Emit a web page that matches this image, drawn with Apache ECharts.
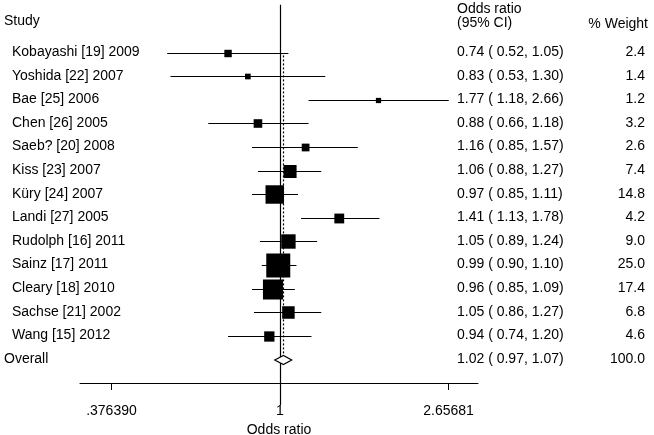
<!DOCTYPE html>
<html><head><meta charset="utf-8">
<script src="https://cdn.jsdelivr.net/npm/echarts@6/dist/echarts.min.js"></script>
<style>html,body{margin:0;padding:0;background:#fff}#c{width:654px;height:435px}</style>
</head><body><div id="c"></div>
<script>
const studies = ['Kobayashi [19] 2009','Yoshida [22] 2007','Bae [25] 2006','Chen [26] 2005','Saeb? [20] 2008','Kiss [23] 2007','Küry [24] 2007','Landi [27] 2005','Rudolph [16] 2011','Sainz [17] 2011','Cleary [18] 2010','Sachse [21] 2002','Wang [15] 2012'];
const oddsRatio = [0.74,0.83,1.77,0.88,1.16,1.06,0.97,1.41,1.05,0.99,0.96,1.05,0.94];
const lower = [0.52,0.53,1.18,0.66,0.85,0.88,0.85,1.13,0.89,0.90,0.85,0.86,0.74];
const upper = [1.05,1.30,2.66,1.18,1.57,1.27,1.11,1.78,1.24,1.10,1.09,1.27,1.20];
const weight = [2.4,1.4,1.2,3.2,2.6,7.4,14.8,4.2,9.0,25.0,17.4,6.8,4.6];
const overallLabel = 'Overall';
const overallOR = 1.02, overallLo = 0.97, overallHi = 1.07, overallW = 100.0;
const tickValues = [0.376390, 1, 2.65681];
const tickLabels = ['.376390', '1', '2.65681'];
const axisMinOR = 0.3137, axisMaxOR = 3.151;

const FONT = '14px "Liberation Sans", Arial, sans-serif';
const ln = Math.log;
const nRows = studies.length;
const overallRow = nRows + 1;
const yMin = -1.246, yMax = 14.975;
const f2 = v => v.toFixed(2);
const px = v => Math.round(v - 0.5) + 0.5;

const chart = echarts.init(document.getElementById('c'), null, {renderer: 'canvas'});

const studyData = studies.map((s, i) => [i + 1, ln(oddsRatio[i]), ln(lower[i]), ln(upper[i]), weight[i]]);
const textData = studies.map((s, i) => [i + 1, s, f2(oddsRatio[i]) + ' ( ' + f2(lower[i]) + ', ' + f2(upper[i]) + ')', weight[i].toFixed(1), 0]);
textData.push([overallRow, overallLabel, f2(overallOR) + ' ( ' + f2(overallLo) + ', ' + f2(overallHi) + ')', overallW.toFixed(1), 1]);

const option = {
  animation: false,
  backgroundColor: '#fff',
  grid: {left: 80, right: 176, top: 0, bottom: 52, containLabel: false, outerBoundsMode: 'none'},
  xAxis: {
    type: 'value', min: ln(axisMinOR), max: ln(axisMaxOR), position: 'bottom',
    axisLine: {show: true, onZero: false, lineStyle: {color: '#000', width: 1}},
    axisTick: {show: true, customValues: tickValues.map(ln), length: 7, lineStyle: {color: '#000'}},
    axisLabel: {show: true, customValues: tickValues.map(ln), margin: 21, color: '#000', fontSize: 14,
      fontFamily: '"Liberation Sans", Arial, sans-serif',
      formatter: v => { let k = 0, d = 1e9; tickValues.forEach((t, j) => { const dd = Math.abs(ln(t) - v); if (dd < d) { d = dd; k = j; } }); return tickLabels[k]; }},
    splitLine: {show: false},
    name: 'Odds ratio', nameLocation: 'middle', nameGap: 38,
    nameTextStyle: {color: '#000', fontSize: 14, fontFamily: '"Liberation Sans", Arial, sans-serif'}
  },
  yAxis: {type: 'value', inverse: true, min: yMin, max: yMax, show: false},
  graphic: [
    {type: 'text', left: 4, top: 14, style: {text: 'Study', font: FONT, fill: '#000'}},
    {type: 'text', left: 457, top: 2, style: {text: 'Odds ratio', font: FONT, fill: '#000'}},
    {type: 'text', left: 457, top: 16, style: {text: '(95% CI)', font: FONT, fill: '#000'}},
    {type: 'text', right: 6, top: 17, style: {text: '% Weight', font: FONT, fill: '#000'}}
  ],
  series: [
    {
      type: 'custom', clip: false, silent: true, data: [[0]],
      renderItem: (params, api) => {
        const top = api.coord([0, yMin + 0.2]);
        const bot = api.coord([0, yMax]);
        const o1 = api.coord([ln(overallOR), 1.1]);
        const o2 = api.coord([ln(overallOR), overallRow]);
        return {type: 'group', children: [
          {type: 'line', shape: {x1: px(top[0]), y1: top[1], x2: px(bot[0]), y2: bot[1] + 22}, style: {stroke: '#000', lineWidth: 1.2}},
          {type: 'line', shape: {x1: px(o1[0]), y1: o1[1], x2: px(o2[0]), y2: o2[1] - 5}, style: {stroke: '#000', lineWidth: 1.2, lineDash: [2, 2]}}
        ]};
      }
    },
    {
      type: 'custom', clip: false, silent: true, data: studyData,
      encode: {x: 1, y: 0},
      renderItem: (params, api) => {
        const row = api.value(0);
        const c = api.coord([api.value(1), row]);
        const a = api.coord([api.value(2), row]);
        const b = api.coord([api.value(3), row]);
        const s = 4.8 * Math.sqrt(api.value(4));
        const y = px(a[1]);
        return {type: 'group', children: [
          {type: 'line', shape: {x1: a[0], y1: y, x2: b[0], y2: y}, style: {stroke: '#000', lineWidth: 1.2}},
          {type: 'rect', shape: {x: c[0] - s / 2, y: y - s / 2, width: s, height: s}, style: {fill: '#000'}}
        ]};
      }
    },
    {
      type: 'custom', clip: false, silent: true, data: [[overallRow, ln(overallOR), ln(overallLo), ln(overallHi)]],
      encode: {x: 1, y: 0},
      renderItem: (params, api) => {
        const row = api.value(0);
        const c = api.coord([api.value(1), row]);
        const a = api.coord([api.value(2), row]);
        const b = api.coord([api.value(3), row]);
        const h = 4.5;
        return {type: 'polygon', shape: {points: [[a[0], a[1]], [c[0], c[1] - h], [b[0], b[1]], [c[0], c[1] + h]]},
          style: {fill: '#fff', stroke: '#000', lineWidth: 1.2}};
      }
    },
    {
      type: 'custom', clip: false, silent: true, data: textData,
      renderItem: (params, api) => {
        const d = textData[params.dataIndex];
        const p = api.coord([0, d[0]]);
        const y = p[1] - 1;
        return {type: 'group', children: [
          {type: 'text', style: {text: d[1], x: d[4] ? 4 : 12, y: y, font: FONT, fill: '#000', textAlign: 'left', textVerticalAlign: 'middle'}},
          {type: 'text', style: {text: d[2], x: 457, y: y, font: FONT, fill: '#000', textAlign: 'left', textVerticalAlign: 'middle'}},
          {type: 'text', style: {text: d[3], x: 645, y: y, font: FONT, fill: '#000', textAlign: 'right', textVerticalAlign: 'middle'}}
        ]};
      }
    }
  ]
};
chart.setOption(option);
</script>
</body></html>
